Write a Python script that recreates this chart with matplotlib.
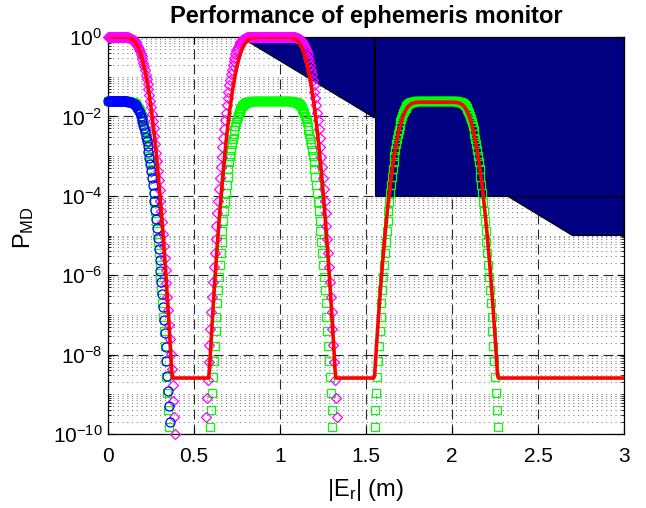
import numpy as np
import matplotlib
matplotlib.use("Agg")
import matplotlib.pyplot as plt
from matplotlib.patches import Polygon
from matplotlib.ticker import FixedLocator, FixedFormatter, NullFormatter

plt.rcParams['font.family'] = ['Liberation Sans', 'DejaVu Sans']
plt.rcParams['mathtext.fontset'] = 'custom'
plt.rcParams['mathtext.rm'] = 'Liberation Sans'
plt.rcParams['mathtext.it'] = 'Liberation Sans:italic'
plt.rcParams['mathtext.bf'] = 'Liberation Sans:bold'
plt.rcParams['mathtext.sf'] = 'Liberation Sans'

# ---------------- data: log10(P_MD) sampled every STEP metres from x0 ----------------
STEP = 0.005

blue_x0 = 0.0
blue_logp = [-1.62, -1.62, -1.62, -1.62, -1.62, -1.62, -1.62, -1.62, -1.62, -1.62,
             -1.62, -1.62, -1.62, -1.62, -1.62, -1.62, -1.62, -1.62, -1.62, -1.62,
             -1.621, -1.622, -1.623, -1.625, -1.628, -1.632, -1.637, -1.644, -1.653, -1.664,
             -1.680, -1.699, -1.722, -1.749, -1.782, -1.821, -1.866, -1.921, -1.981, -2.050,
             -2.125, -2.207, -2.298, -2.399, -2.507, -2.625, -2.751, -2.888, -3.038, -3.197,
             -3.366, -3.542, -3.730, -3.927, -4.136, -4.354, -4.584, -4.823, -5.074, -5.334,
             -5.605, -5.886, -6.178, -6.482, -6.795, -7.122, -7.454, -7.802, -8.162, -8.532,
             -8.916, -9.304, -9.707]

magenta_h1_x0 = 0.0
magenta_h1_logp = [0.0] * 16 + [
    -0.001, -0.001, -0.001, -0.002, -0.003, -0.005, -0.007, -0.011, -0.015, -0.021,
    -0.029, -0.039, -0.052, -0.068, -0.087, -0.110, -0.138, -0.171, -0.208, -0.252,
    -0.301, -0.357, -0.419, -0.489, -0.565, -0.649, -0.741, -0.840, -0.948, -1.064,
    -1.188, -1.321, -1.462, -1.613, -1.770, -1.939, -2.115, -2.301, -2.495, -2.699,
    -2.914, -3.136, -3.368, -3.609, -3.860, -4.120, -4.388, -4.668, -4.955, -5.254,
    -5.562, -5.879, -6.205, -6.542, -6.889, -7.245, -7.611, -7.983, -8.371, -8.764,
    -9.167, -9.580, -9.990]

magenta_h2_x0 = 0.57
magenta_h2_logp = [
    -9.569, -9.097, -8.642, -8.197, -7.764, -7.344, -6.936, -6.542, -6.161, -5.790,
    -5.433, -5.089, -4.757, -4.437, -4.128, -3.833, -3.550, -3.278, -3.019, -2.772,
    -2.537, -2.314, -2.102, -1.903, -1.715, -1.539, -1.374, -1.219, -1.076, -0.944,
    -0.823, -0.712, -0.611, -0.519, -0.438, -0.365,
    -0.301, -0.245, -0.197, -0.157, -0.122, -0.094, -0.071, -0.052, -0.038, -0.027,
    -0.019, -0.013, -0.009, -0.006, -0.003, -0.002, -0.001, -0.001] + [0.0] * 45 + [
    -0.001, -0.001, -0.002, -0.003, -0.006, -0.009, -0.013, -0.019, -0.027, -0.038,
    -0.052, -0.071, -0.094, -0.122, -0.157, -0.197, -0.245, -0.301,
    -0.365, -0.438, -0.519, -0.611, -0.712, -0.823, -0.944, -1.076, -1.219, -1.374,
    -1.539, -1.715, -1.903, -2.102, -2.314, -2.537, -2.772, -3.019, -3.278, -3.550,
    -3.833, -4.128, -4.437, -4.757, -5.089, -5.433, -5.790, -6.161, -6.542, -6.936,
    -7.344, -7.764, -8.197, -8.642, -9.097, -9.569]

green_h1_x0 = 0.0
green_h1_logp = [-1.62] * 21 + [
    -1.621, -1.621, -1.622, -1.623, -1.626, -1.629, -1.633, -1.639, -1.647, -1.658,
    -1.672, -1.691, -1.714, -1.742, -1.777, -1.817, -1.865, -1.921,
    -1.985, -2.058, -2.139, -2.231, -2.332, -2.443, -2.564, -2.696, -2.839, -2.994,
    -3.159, -3.335, -3.523, -3.722, -3.934, -4.157, -4.392, -4.639, -4.898, -5.170,
    -5.453, -5.748, -6.057, -6.377, -6.709, -7.053, -7.410, -7.781, -8.162, -8.556,
    -8.964, -9.384, -9.817]

green_h2_x0 = 0.595
green_h2_logp = [
    -9.817, -9.384, -8.964, -8.556, -8.162, -7.781, -7.410, -7.053, -6.709, -6.377,
    -6.057, -5.748, -5.453, -5.170, -4.898, -4.639, -4.392, -4.157, -3.934, -3.722,
    -3.523, -3.335, -3.159, -2.994, -2.839, -2.696, -2.564, -2.443, -2.332, -2.231,
    -2.139, -2.058, -1.985,
    -1.921, -1.865, -1.817, -1.777, -1.742, -1.714, -1.691, -1.672, -1.658, -1.647,
    -1.639, -1.633, -1.629, -1.626, -1.623, -1.622, -1.621, -1.621] + [-1.62] * 41 + [
    -1.621, -1.621, -1.622, -1.623, -1.626, -1.629, -1.633, -1.639, -1.647, -1.658,
    -1.672, -1.691, -1.714, -1.742, -1.777, -1.817, -1.865, -1.921,
    -1.985, -2.058, -2.139, -2.231, -2.332, -2.443, -2.564, -2.696, -2.839, -2.994,
    -3.159, -3.335, -3.523, -3.722, -3.934, -4.157, -4.392, -4.639, -4.898, -5.170,
    -5.453, -5.748, -6.057, -6.377, -6.709, -7.053, -7.410, -7.781, -8.162, -8.556,
    -8.964, -9.384, -9.817]

green_h3_x0 = 1.55
green_h3_logp = [
    -9.817, -9.384, -8.964, -8.556, -8.162, -7.781, -7.410, -7.053, -6.709, -6.377,
    -6.057, -5.748, -5.453, -5.170, -4.898, -4.639, -4.392, -4.157, -3.934, -3.722,
    -3.523, -3.335, -3.159, -2.994, -2.839, -2.696, -2.564, -2.443, -2.332, -2.231,
    -2.139, -2.058, -1.985,
    -1.921, -1.865, -1.817, -1.777, -1.742, -1.714, -1.691, -1.672, -1.658, -1.647,
    -1.639, -1.633, -1.629, -1.626, -1.623, -1.622, -1.621, -1.621] + [-1.62] * 42 + [
    -1.621, -1.621, -1.622, -1.623, -1.626, -1.629, -1.633, -1.639, -1.647, -1.658,
    -1.672, -1.691, -1.714, -1.742, -1.777, -1.817, -1.865, -1.921,
    -1.985, -2.058, -2.139, -2.231, -2.332, -2.443, -2.564, -2.696, -2.839, -2.994,
    -3.159, -3.335, -3.523, -3.722, -3.934, -4.157, -4.392, -4.639, -4.898, -5.170,
    -5.453, -5.748, -6.057, -6.377, -6.709, -7.053, -7.410, -7.781, -8.162, -8.556,
    -8.964, -9.384, -9.817]

red_h1_x0 = 0.0
red_h1_logp = [0.0] * 16 + [
    -0.001, -0.001, -0.001, -0.002, -0.003, -0.005, -0.007, -0.011, -0.015, -0.021,
    -0.029, -0.039, -0.052, -0.068, -0.087, -0.110, -0.138, -0.171, -0.208, -0.252,
    -0.301, -0.357, -0.419, -0.489, -0.565, -0.649, -0.741, -0.840, -0.948, -1.064,
    -1.188, -1.321, -1.462, -1.613, -1.770, -1.939, -2.115, -2.301, -2.495, -2.699,
    -2.914, -3.136, -3.368, -3.609, -3.860, -4.120, -4.388, -4.668, -4.955, -5.254,
    -5.562, -5.879, -6.205, -6.542, -6.889, -7.245, -7.611, -7.983, -8.371, -8.59]

red_h2_x0 = 0.585
red_h2_logp = [
    -8.59, -8.371, -7.983, -7.611, -7.245, -6.889, -6.542, -6.205, -5.879, -5.562,
    -5.254, -4.955, -4.668, -4.388, -4.120, -3.860, -3.609, -3.368, -3.136, -2.914,
    -2.699, -2.495, -2.301, -2.115, -1.939, -1.770, -1.613, -1.462, -1.321, -1.188,
    -1.064, -0.948, -0.840, -0.741, -0.649, -0.565, -0.489, -0.419, -0.357,
    -0.301, -0.252, -0.208, -0.171, -0.138, -0.110, -0.087, -0.068, -0.052, -0.039,
    -0.029, -0.021, -0.015, -0.011, -0.007, -0.005, -0.003, -0.002, -0.001, -0.001,
    -0.001] + [0.0] * 29 + [
    -0.001, -0.001, -0.001, -0.002, -0.003, -0.005, -0.007, -0.011, -0.015, -0.021,
    -0.029, -0.039, -0.052, -0.068, -0.087, -0.110, -0.138, -0.171, -0.208, -0.252,
    -0.301, -0.357, -0.419, -0.489, -0.565, -0.649, -0.741, -0.840, -0.948, -1.064,
    -1.188, -1.321, -1.462, -1.613, -1.770, -1.939, -2.115, -2.301, -2.495, -2.699,
    -2.914, -3.136, -3.368, -3.609, -3.860, -4.120, -4.388, -4.668, -4.955, -5.254,
    -5.562, -5.879, -6.205, -6.542, -6.889, -7.245, -7.611, -7.983, -8.371, -8.59]

red_h3_x0 = 1.545
red_h3_logp = [
    -8.59, -8.529, -8.182, -7.845, -7.519, -7.202, -6.894, -6.595, -6.308, -6.028,
    -5.760, -5.500, -5.249, -5.008, -4.776, -4.554, -4.339, -4.135, -3.941, -3.755,
    -3.579, -3.410, -3.253, -3.102, -2.961, -2.828, -2.704, -2.588, -2.480, -2.381,
    -2.289, -2.205, -2.129, -2.059, -1.997,
    -1.941, -1.892, -1.848, -1.811, -1.778, -1.750, -1.727, -1.708, -1.692, -1.679,
    -1.669, -1.661, -1.655, -1.651, -1.647, -1.645, -1.643, -1.642, -1.641, -1.641,
    -1.641] + [-1.64] * 34 + [
    -1.641, -1.641, -1.641, -1.642, -1.643, -1.645, -1.647, -1.651, -1.655, -1.661,
    -1.669, -1.679, -1.692, -1.708, -1.727, -1.750, -1.778, -1.811, -1.848, -1.892,
    -1.941,
    -1.997, -2.059, -2.129, -2.205, -2.289, -2.381, -2.480, -2.588, -2.704, -2.828,
    -2.961, -3.102, -3.253, -3.410, -3.579, -3.755, -3.941, -4.135, -4.339, -4.554,
    -4.776, -5.008, -5.249, -5.500, -5.760, -6.028, -6.308, -6.595, -6.894, -7.202,
    -7.519, -7.845, -8.182, -8.529, -8.59]

red_end_x = 3.0
red_end_logp = -8.59

# navy "unsafe" regions (x in m, log10 P_MD)
region1_x = [0.77, 1.55, 1.55]
region1_logp = [0.0, -2.04, 0.0]
region2_x = [2.32, 2.70, 3.0, 3.0]
region2_logp = [-4.0, -5.0, -5.0, -4.0]
region3_x = [1.55, 3.0, 3.0, 1.55]
region3_logp = [-4.0, -4.0, 0.0, 0.0]

xtick_vals = [0, 0.5, 1, 1.5, 2, 2.5, 3]
xtick_labels = ['0', '0.5', '1', '1.5', '2', '2.5', '3']
ytick_exps = [-10, -8, -6, -4, -2, 0]
ytick_labels = [r'$\mathregular{10^{-10}}$', r'$\mathregular{10^{-8}}$', r'$\mathregular{10^{-6}}$',
                r'$\mathregular{10^{-4}}$', r'$\mathregular{10^{-2}}$', r'$\mathregular{10^{0}}$']


def seg(x0, logp):
    x = x0 + STEP * np.arange(len(logp))
    return x, 10.0 ** np.asarray(logp)


# ---------------- figure ----------------
W, H = 646, 508
fig = plt.figure(figsize=(W / 100, H / 100), dpi=100)
ax = fig.add_axes([108 / W, 1 - 434 / H, 516 / W, 397 / H])
ax.set_yscale('log')
ax.set_xlim(0, 3)
ax.set_ylim(1e-10, 1)

# grids
ax.set_axisbelow(True)
ax.xaxis.grid(True, which='major', linestyle=(0, (9, 4.5)), color='0.15', linewidth=0.8)
ax.yaxis.grid(True, which='major', linestyle=(0, (9, 4.5)), color='0.15', linewidth=0.8)
ax.yaxis.grid(True, which='minor', linestyle=(0, (1.2, 4.0)), color='0.45', linewidth=0.65)

# regions
for rx, ry in [(region1_x, region1_logp), (region2_x, region2_logp), (region3_x, region3_logp)]:
    pts = np.column_stack([rx, 10.0 ** np.asarray(ry)])
    ax.add_patch(Polygon(pts, closed=True, facecolor='#000080', edgecolor='black',
                         linewidth=0.8, zorder=1))

# markers
mk = dict(linestyle='none', markerfacecolor='none', clip_on=False, zorder=3)
for x0, lp in [(green_h1_x0, green_h1_logp), (green_h2_x0, green_h2_logp), (green_h3_x0, green_h3_logp)]:
    x, y = seg(x0, lp)
    ax.plot(x, y, marker='s', markersize=5.5, markeredgewidth=0.9, markeredgecolor='#00ff00', **mk)
for x0, lp in [(magenta_h1_x0, magenta_h1_logp), (magenta_h2_x0, magenta_h2_logp)]:
    x, y = seg(x0, lp)
    ax.plot(x, y, marker='D', markersize=5.0, markeredgewidth=0.9, markeredgecolor='#ff00ff', **mk)
x, y = seg(blue_x0, blue_logp)
ax.plot(x, y, marker='o', markersize=6.5, markeredgewidth=0.9, markeredgecolor='#0000ff', **mk)

# red line
rx, ry = [], []
for x0, lp in [(red_h1_x0, red_h1_logp), (red_h2_x0, red_h2_logp), (red_h3_x0, red_h3_logp)]:
    x, y = seg(x0, lp)
    rx.extend(x)
    ry.extend(y)
rx.append(red_end_x)
ry.append(10.0 ** red_end_logp)
ax.plot(rx, ry, color='#ff0000', linewidth=2.6, zorder=4, solid_joinstyle='round')

# ticks
ax.xaxis.set_major_locator(FixedLocator(xtick_vals))
ax.xaxis.set_major_formatter(FixedFormatter(xtick_labels))
ax.yaxis.set_major_locator(FixedLocator([10.0 ** e for e in ytick_exps]))
ax.yaxis.set_major_formatter(FixedFormatter(ytick_labels))
minor = [m * 10.0 ** e for e in range(-10, 0) for m in range(1, 10) if not (m == 1 and e % 2 == 0)]
ax.yaxis.set_minor_locator(FixedLocator(minor))
ax.yaxis.set_minor_formatter(NullFormatter())
ax.tick_params(which='both', direction='in', top=True, right=True, colors='black')
ax.tick_params(which='major', length=5, width=0.8, labelsize=15)
ax.tick_params(which='minor', length=2.5, width=0.6)
ax.tick_params(axis='x', pad=9)
ax.tick_params(axis='y', pad=4)
for s in ax.spines.values():
    s.set_linewidth(0.9)
    s.set_color('black')

ax.set_title('Performance of ephemeris monitor', fontsize=17, fontweight='bold', pad=10)
ax.set_xlabel(r'$|\mathrm{E}_{\mathrm{r}}|$ (m)', fontsize=17)
ax.set_ylabel(r'$\mathrm{P}_{\mathrm{MD}}$', fontsize=17)
ax.xaxis.set_label_coords(0.5, -0.108)
ax.yaxis.set_label_coords(-0.14, 0.52)

fig.savefig('out.png', dpi=100)
